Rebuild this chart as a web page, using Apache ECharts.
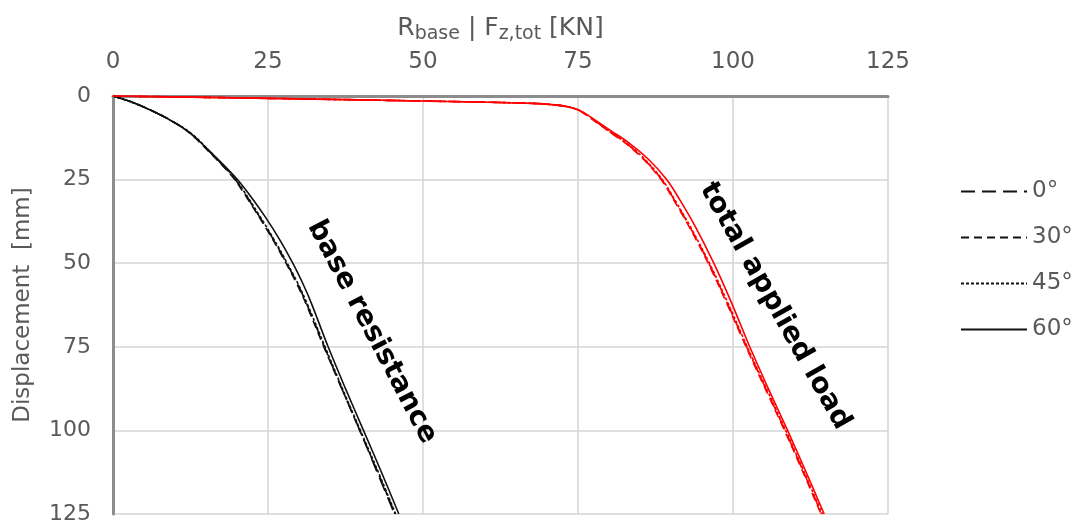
<!DOCTYPE html>
<html>
<head>
<meta charset="utf-8">
<script src="https://cdn.jsdelivr.net/npm/echarts@6/dist/echarts.min.js"></script>
<style>
html,body{margin:0;padding:0;background:#fff;}
#chart{width:1083px;height:525px;}
</style>
</head>
<body>
<div id="chart"></div>
<script>
// Axis ticks
const xTicks = [0, 25, 50, 75, 100, 125];
const yTicks = [0, 25, 50, 75, 100, 125];

// Legend names (inclination angle)
const angleNames = ['0°', '30°', '45°', '60°'];

// Base resistance curves: displacement [mm] and R_base [kN]
const dispBase = [0, 1.8, 4.2, 7, 11, 16.7, 24, 29, 36, 43, 50, 56, 62, 75, 87.5, 100, 112.5, 125];
const base0  = [0, 3.0, 6.0, 9.0, 12.4, 15.6, 19.3, 21.2, 23.6, 25.9, 28.0, 29.7, 31.2, 34.1, 36.9, 39.8, 42.6, 45.4];
const base30 = [0, 3.1, 6.1, 9.1, 12.3, 15.5, 19.2, 21.1, 23.5, 25.8, 27.9, 29.6, 31.1, 34.0, 36.9, 39.8, 42.7, 45.5];
const base45 = [0, 2.9, 6.0, 9.0, 12.5, 15.7, 19.4, 21.3, 23.7, 26.0, 28.1, 29.8, 31.3, 34.2, 37.0, 39.9, 42.8, 45.6];
const base60 = [0, 3.0, 6.0, 9.0, 12.4, 15.7, 19.6, 21.8, 24.5, 26.9, 29.0, 30.6, 32.0, 34.7, 37.5, 40.4, 43.3, 46.1];

// Total applied load curves: displacement [mm] and F_z,tot [kN]
const dispTot = [0, 0.7, 1.5, 2.2, 2.8, 3.5, 4.6, 7, 10.5, 14, 19, 25, 31, 39, 50, 62, 75, 87.5, 100, 112.5, 125];
const tot0  = [0, 25, 50, 67.7, 72.0, 74.0, 75.5, 77.4, 80.0, 82.7, 85.7, 88.5, 90.5, 93.0, 96.1, 99.1, 102.2, 105.3, 108.4, 111.4, 114.3];
const tot30 = [0, 25, 50, 67.7, 72.0, 74.0, 75.4, 77.3, 79.9, 82.6, 85.6, 88.4, 90.4, 92.9, 96.0, 99.0, 102.1, 105.2, 108.3, 111.3, 114.2];
const tot45 = [0, 25, 50, 67.7, 72.0, 74.0, 75.5, 77.5, 80.1, 82.8, 85.8, 88.6, 90.6, 93.1, 96.2, 99.2, 102.3, 105.4, 108.5, 111.5, 114.4];
const tot60 = [0, 25, 50, 67.7, 72.0, 74.0, 75.6, 77.6, 80.4, 83.2, 86.4, 89.3, 91.4, 93.9, 96.9, 99.8, 102.7, 105.7, 108.8, 111.8, 114.7];

const dashes = [[14, 7], [8, 5], [3, 2], 'solid'];

function pairs(xs, ys) { return xs.map((x, i) => [x, ys[i]]); }

const baseSets = [base0, base30, base45, base60];
const totSets = [tot0, tot30, tot45, tot60];

const series = [];
angleNames.forEach((n, i) => {
  series.push({
    name: n, type: 'line', symbol: 'none', smooth: 0.35,
    data: pairs(baseSets[i], dispBase),
    lineStyle: { color: '#111', width: 1.6, type: dashes[i] },
    itemStyle: { color: '#111' }, z: 3
  });
});
angleNames.forEach((n, i) => {
  series.push({
    name: n, type: 'line', symbol: 'none', smooth: 0.35,
    data: pairs(totSets[i], dispTot),
    lineStyle: { color: '#ff0000', width: 1.6, type: dashes[i] },
    itemStyle: { color: '#ff0000' }, z: 3
  });
});

const chart = echarts.init(document.getElementById('chart'));
const txt = '#595959';
const font = 'DejaVu Sans';
chart.setOption({
  animation: false,
  backgroundColor: '#fff',
  textStyle: { fontFamily: font },
  grid: { left: 113, right: 195, top: 96, bottom: 11 },
  legend: {
    data: angleNames,
    orient: 'vertical',
    left: 955, top: 175,
    itemWidth: 66, itemHeight: 14, itemGap: 23,
    itemStyle: { opacity: 0 },
    textStyle: { color: txt, fontSize: 23, fontFamily: font }
  },
  xAxis: {
    type: 'value', position: 'top',
    min: xTicks[0], max: xTicks[xTicks.length - 1], interval: 25,
    name: '{r|R}{sub|base}{r| | F}{sub|z,tot}{r| [KN]}',
    nameLocation: 'middle', nameGap: 52,
    nameTextStyle: {
      rich: {
        r: { fontSize: 25, color: txt, lineHeight: 32, fontFamily: font },
        sub: { fontSize: 19, color: txt, lineHeight: 18, verticalAlign: 'bottom', fontFamily: font }
      }
    },
    axisLine: { show: true, lineStyle: { color: '#8c8c8c', width: 3 } },
    axisTick: { show: false },
    axisLabel: { color: txt, fontSize: 23, margin: 22, fontFamily: font },
    splitLine: { show: true, lineStyle: { color: '#d4d4d4', width: 1.5 } }
  },
  yAxis: {
    type: 'value', inverse: true,
    min: yTicks[0], max: yTicks[yTicks.length - 1], interval: 25,
    name: 'Displacement  [mm]',
    nameLocation: 'middle', nameGap: 78,
    nameTextStyle: { color: txt, fontSize: 23, fontFamily: font },
    axisLine: { show: true, onZero: false, lineStyle: { color: '#8c8c8c', width: 3 } },
    axisTick: { show: false },
    axisLabel: { color: txt, fontSize: 22, margin: 22, fontFamily: font },
    splitLine: { show: true, lineStyle: { color: '#d4d4d4', width: 1.5 } }
  },
  graphic: [
    {
      type: 'text', x: 372, y: 332, rotation: -1.086, z: 10,
      style: { text: 'base resistance', fill: '#000', font: 'bold 28px "DejaVu Sans"', align: 'center', verticalAlign: 'middle' }
    },
    {
      type: 'text', x: 775, y: 306, rotation: -1.056, z: 10,
      style: { text: 'total applied load', fill: '#000', font: 'bold 28px "DejaVu Sans"', align: 'center', verticalAlign: 'middle' }
    }
  ],
  series: series
});
</script>
</body>
</html>
